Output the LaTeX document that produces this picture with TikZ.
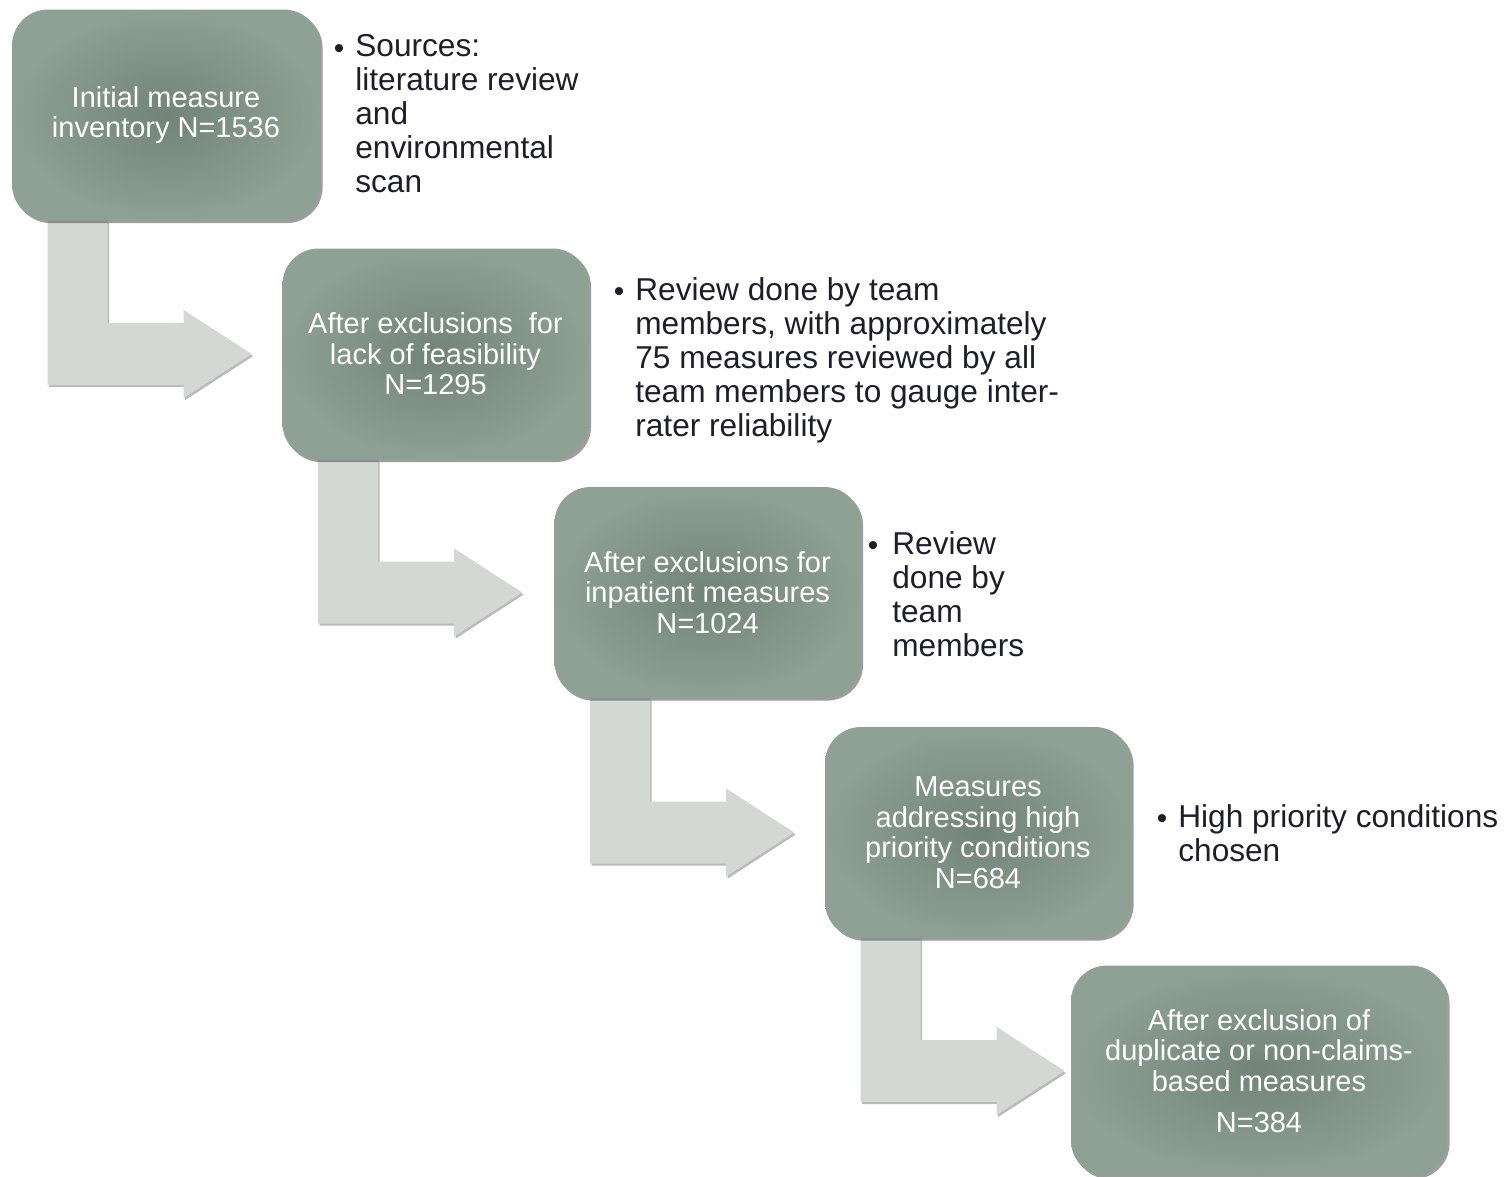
\documentclass[tikz,border=0pt]{standalone}
\usepackage{fontspec}
\setmainfont{Liberation Sans}
\usetikzlibrary{calc,shadows,backgrounds}
\definecolor{boxinner}{HTML}{728378}
\definecolor{boxouter}{HTML}{8FA195}
\definecolor{arrowgrey}{HTML}{D3D8D4}
\definecolor{notegrey}{HTML}{1E1E28}
\begin{document}
\begin{tikzpicture}[x=0.02cm, y=-0.02cm,
    stage/.style ={rounded corners=0.72cm, inner color=boxinner, outer color=boxouter, text=white, align=center,
      font=\fontsize{16.5}{17.4}\selectfont, minimum width=6.12cm, minimum height=4.22cm,
      drop shadow={shadow xshift=1.5pt, shadow yshift=-1.5pt, opacity=0.55, fill=black!70}},
    note/.style ={anchor=north west, inner sep=0pt, align=left, text=notegrey, font=\fontsize{18}{19.4}\selectfont},
    bulletmark/.style ={inner sep=0pt, text=notegrey, font=\fontsize{17}{17}\selectfont},
    bentarrow/.style ={fill=arrowgrey, drop shadow={shadow xshift=0.8pt, shadow yshift=-1.2pt, opacity=0.45, fill=black!60}}]
   \useasboundingbox (0,0) rectangle (1512,1177);

   \node[stage, minimum width=6.16cm] (inv) at (166,115) {Initial measure\\inventory N=1536};
   \node[stage] (feas) at (435.5,354) {After exclusions~ for\\lack of feasibility\\N=1295};
   \node[stage] (inpat) at (707.5,592.5) {After exclusions for\\inpatient measures\\N=1024};
   \node[stage] (prio) at (978,832.5) {Measures\\addressing high\\priority conditions\\N=684};
   \node[stage, minimum width=7.52cm] (claims) at (1259,1071) {After exclusion of\\duplicate or non-claims-\\based measures\\[6pt]N=384};

   % notes beside the boxes
   \node[bulletmark] (b1) at (339,52) {•};
   \node[note] (src) at (355,34) {Sources:\\literature review\\and\\environmental\\scan};
   \node[bulletmark] (b2) at (619,295) {•};
   \node[note] (rev) at (635,277) {Review done by team\\members, with approximately\\75 measures reviewed by all\\team members to gauge inter-\\rater reliability};
   \node[bulletmark] (b3) at (873,549) {•};
   \node[note] (team) at (892,531) {Review\\done by\\team\\members};
   \node[bulletmark] (b4) at (1162,822) {•};
   \node[note] (cond) at (1178,804) {High priority conditions\\chosen};

   % bent arrows
   \begin{scope}[on background layer]
   \foreach \a/\b in {inv/feas, feas/inpat, inpat/prio, prio/claims} {
     \coordinate (top) at ($(\a.south west)+(36,0)$);
     \coordinate (mid) at ($(\a.south west)+(240,0)$);
     \coordinate (tip) at (mid |- \b.west);
     \fill[bentarrow] (top) -- ++(60,0) |- ($(tip)+(-68,-31)$) -- ++(0,-13) -- (tip)
        -- ($(tip)+(-68,44)$) -- ++(0,-13) -| (top) -- cycle;
   }
   \end{scope}
\end{tikzpicture}
\end{document}
